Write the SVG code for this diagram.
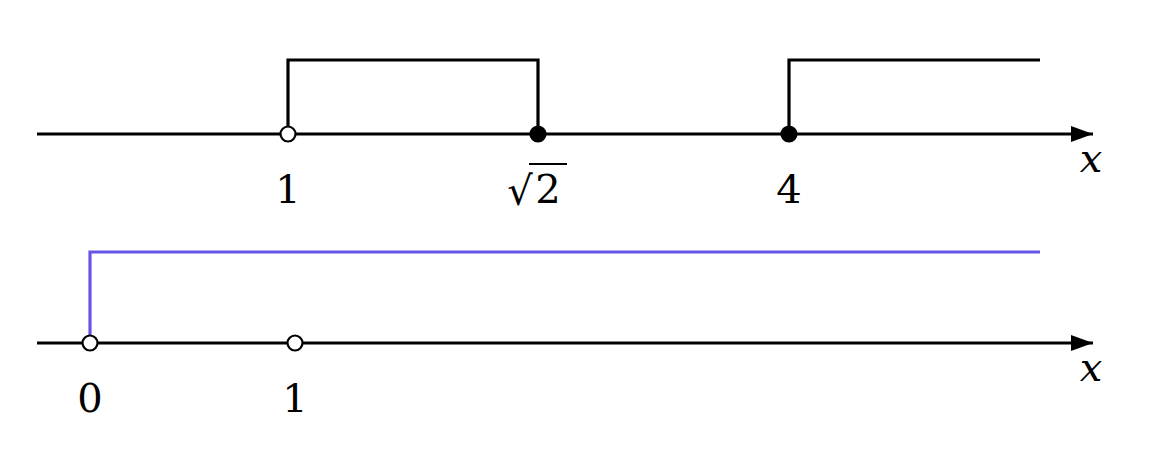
<svg xmlns="http://www.w3.org/2000/svg" width="1162" height="460" viewBox="0 0 1162 460">
<style>
.ax{stroke:#000;stroke-width:3.2;fill:none}
.fn{stroke:#000;stroke-width:3.2;fill:none}
.bl{stroke:#6655e8;stroke-width:3.2;fill:none}
.open{fill:#fff;stroke:#000;stroke-width:2.2}
.fill{fill:#000;stroke:#000;stroke-width:2.2}
.lb{font-family:'DejaVu Serif',serif;font-size:40px;fill:#000;text-anchor:middle}
.var{font-family:'DejaVu Serif',serif;font-size:40px;font-style:italic;fill:#000;text-anchor:middle}
</style>
<defs>
<marker id="arr" markerWidth="24" markerHeight="18" refX="22" refY="8" orient="auto" markerUnits="userSpaceOnUse">
<path d="M0,0 L22,8 L0,16 Z" fill="#000"/>
</marker>
</defs>
<rect width="1162" height="460" fill="#fff"/>
<g id="connectors">
<line class="ax" x1="37" y1="134" x2="1093" y2="134" marker-end="url(#arr)"/>
<line class="ax" x1="37" y1="343" x2="1093" y2="343" marker-end="url(#arr)"/>
<polyline class="fn" points="288,134 288,60 538,60 538,134"/>
<polyline class="fn" points="789,134 789,60 1040,60"/>
<polyline class="bl" points="90,343 90,252 1040,252"/>
</g>
<g id="p1"><circle class="open" cx="288" cy="134" r="7.5"/><text class="lb" x="288" y="203">1</text></g>
<g id="psqrt2"><circle class="fill" cx="538" cy="134" r="7.5"/><text class="lb" x="520" y="205" font-size="42">√</text><text class="lb" x="548" y="203">2</text><line x1="529" y1="164" x2="567" y2="164" stroke="#000" stroke-width="2"/></g>
<g id="p4"><circle class="fill" cx="789" cy="134" r="7.5"/><text class="lb" x="789" y="203">4</text></g>
<g id="xtop"><text class="var" x="1091" y="172">x</text></g>
<g id="p0b"><circle class="open" cx="90" cy="343" r="7.5"/><text class="lb" x="90" y="412">0</text></g>
<g id="p1b"><circle class="open" cx="295" cy="343" r="7.5"/><text class="lb" x="295" y="412">1</text></g>
<g id="xbot"><text class="var" x="1091" y="381">x</text></g>
</svg>
